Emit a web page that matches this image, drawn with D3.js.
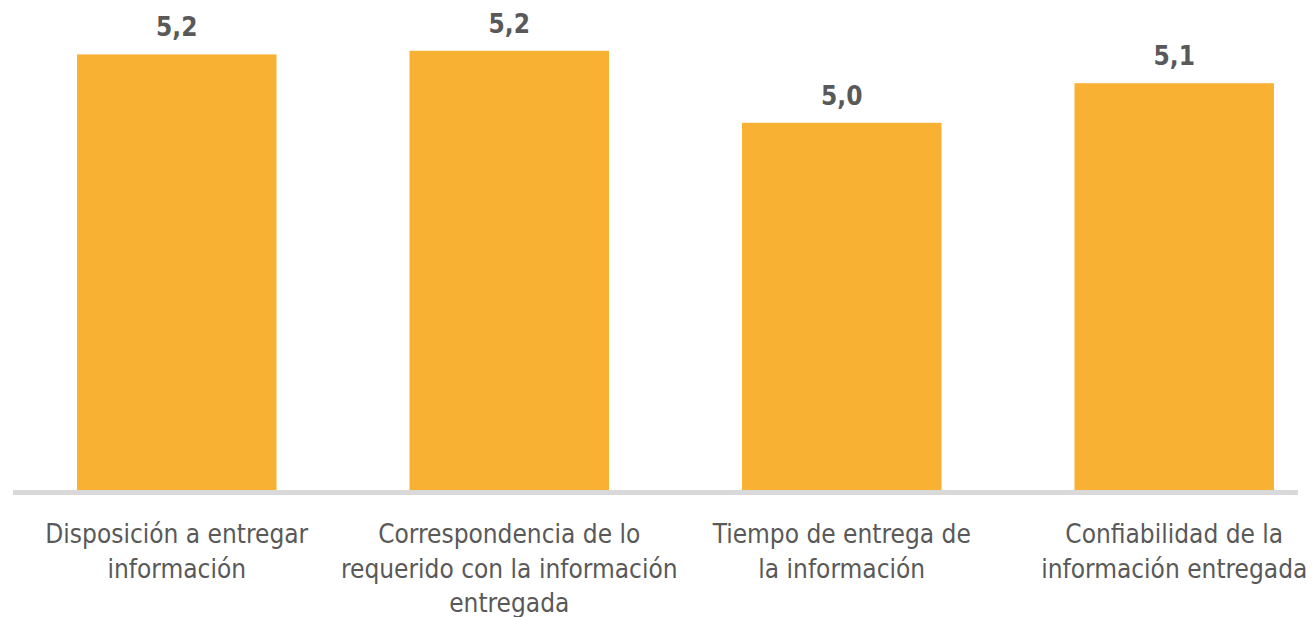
<!DOCTYPE html>
<html>
<head>
<meta charset="utf-8">
<script src="https://cdn.jsdelivr.net/npm/d3@7"></script>
<style>
  html, body { margin: 0; padding: 0; background: #fff; }
  svg { display: block; }
  text { font-family: "Liberation Sans Narrow", "DejaVu Sans Condensed", "Liberation Sans", sans-serif; fill: #595959; }
</style>
</head>
<body>
<div id="chart"></div>
<script>
// categories, as they wrap under the axis
const categories = [
  "Disposición a entregar información",
  "Correspondencia de lo requerido con la información entregada",
  "Tiempo de entrega de la información",
  "Confiabilidad de la información entregada"
];
const categoryLines = [
  ["Disposición a entregar", "información"],
  ["Correspondencia de lo", "requerido con la información", "entregada"],
  ["Tiempo de entrega de", "la información"],
  ["Confiabilidad de la", "información entregada"]
];
// average scores (shown rounded to one decimal)
const scores = [5.21, 5.22, 5.02, 5.13];
const yDomain = [4, 5.3];

const width = 1316, height = 617;
const baseY = 490;

const svg = d3.select("#chart").append("svg")
  .attr("width", width)
  .attr("height", height);

const x = d3.scaleBand()
  .domain(categories)
  .range([77, 1274])
  .paddingInner(0.4)
  .paddingOuter(0);

const y = d3.scaleLinear()
  .domain(yDomain)
  .range([baseY, baseY - 1.3 * 360]);

const fmt = v => d3.format(".1f")(v).replace(".", ",");

// bars
svg.append("g").selectAll("rect")
  .data(scores)
  .join("rect")
  .attr("x", (d, i) => x(categories[i]))
  .attr("y", d => y(d))
  .attr("width", x.bandwidth())
  .attr("height", d => baseY - y(d))
  .attr("fill", "#f8b133");

// value labels
svg.append("g").selectAll("text")
  .data(scores)
  .join("text")
  .attr("x", (d, i) => x(categories[i]) + x.bandwidth() / 2)
  .attr("y", d => y(d) - 18)
  .attr("text-anchor", "middle")
  .attr("font-size", "26px")
  .attr("font-weight", "bold")
  .text(d => fmt(d));

// axis line
svg.append("line")
  .attr("x1", 13)
  .attr("x2", 1298)
  .attr("y1", baseY + 2.5)
  .attr("y2", baseY + 2.5)
  .attr("stroke", "#d9d9d9")
  .attr("stroke-width", 5);

// category labels
const labels = svg.append("g").selectAll("text")
  .data(categories)
  .join("text")
  .attr("text-anchor", "middle")
  .attr("font-size", "26px")
  .attr("transform", d => `translate(${x(d) + x.bandwidth() / 2}, 543)`);

labels.selectAll("tspan")
  .data((d, i) => categoryLines[i])
  .join("tspan")
  .attr("x", 0)
  .attr("y", (d, j) => j * 34.5)
  .text(d => d);
</script>
</body>
</html>
